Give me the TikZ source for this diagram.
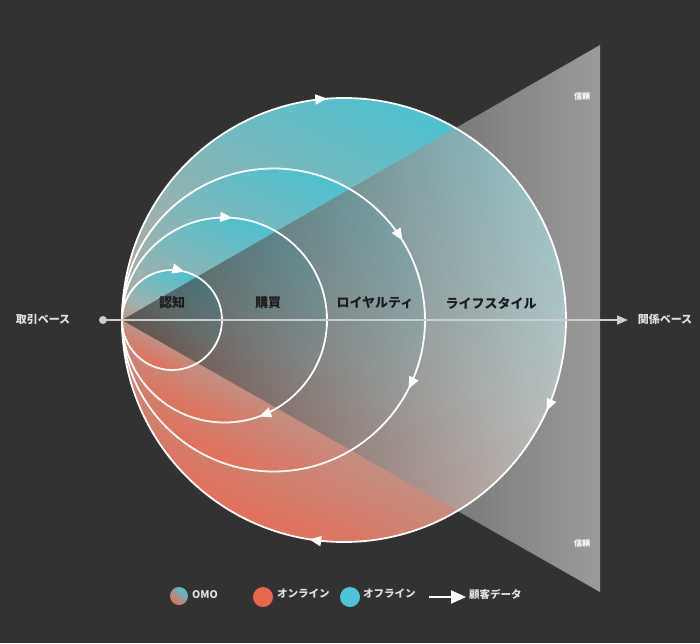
\documentclass[tikz,border=0pt]{standalone}
\usepackage{fontspec}
\newfontfamily\jp{Noto Sans CJK JP}
\usetikzlibrary{arrows.meta,decorations.markings}
\definecolor{bg}{RGB}{50,50,50}
\definecolor{teal}{RGB}{78,193,207}
\definecolor{salmon}{RGB}{226,112,91}
\definecolor{midmix}{RGB}{160,176,172}
\definecolor{onl}{RGB}{232,102,79}
\definecolor{offl}{RGB}{79,195,216}
\definecolor{wedgeL}{RGB}{44,44,44}
\definecolor{wedgeR}{RGB}{215,215,215}
\definecolor{axisgray}{RGB}{205,205,205}
\definecolor{lbl}{RGB}{28,28,28}
\definecolor{side}{RGB}{225,225,225}
\tikzset{
  ringtip/.tip={Triangle[length=12pt,width=10pt]},
  circshade/.style={top color=teal, bottom color=salmon, middle color=midmix, shading angle=-25},
  ring/.style={draw=white, line width=1.8pt},
  stage/.style={font=\jp\bfseries\fontsize{13}{15}\selectfont, text=lbl, inner sep=0pt},
  sidelbl/.style={font=\jp\bfseries\fontsize{11}{13}\selectfont, text=side, inner sep=0pt},
  trust/.style={font=\jp\bfseries\fontsize{8}{10}\selectfont, text=white, inner sep=0pt},
  legtext/.style={font=\jp\bfseries\fontsize{10.5}{12}\selectfont, text=side, inner sep=0pt, anchor=west},
  marks/.style={postaction={decorate}, decoration={markings, #1}}
}
\begin{document}
\begin{tikzpicture}[x=1pt,y=-1pt]
\fill[bg] (0,0) rectangle (700,643);
\useasboundingbox (0,0) rectangle (700,643);
% centers
\coordinate (c4) at (344,320);
\coordinate (c3) at (273.5,320);
\coordinate (c2) at (224.5,320);
\coordinate (c1) at (172,320);
\coordinate (apex) at (122,320);
\coordinate (wt) at (600,45);
\coordinate (wb) at (600,592);
% filled circles
\shade[circshade] (c4) circle[radius=222];
\shade[circshade] (c3) circle[radius=151.5];
\shade[circshade] (c2) circle[radius=102.5];
\shade[circshade] (c1) circle[radius=50];
% wedge
\shade[left color=wedgeL, right color=wedgeR, opacity=0.64] (apex) -- (wt) -- (wb) -- cycle;
% rings
\draw[ring, marks={mark=at position 0.067 with {\arrow{ringtip}}, mark=at position 0.275 with {\arrow{ringtip}}, mark=at position 0.738 with {\arrow{ringtip}}}]
  (c4) ++(0:222) arc[start angle=0, end angle=360, radius=222];
\draw[ring, marks={mark=at position 0.075 with {\arrow{ringtip}}, mark=at position 0.912 with {\arrow{ringtip}}}]
  (c3) ++(0:151.5) arc[start angle=0, end angle=360, radius=151.5];
\draw[ring, marks={mark=at position 0.195 with {\arrow{ringtip}}, mark=at position 0.762 with {\arrow{ringtip}}}]
  (c2) ++(0:102.5) arc[start angle=0, end angle=360, radius=102.5];
\draw[ring, marks={mark=at position 0.79 with {\arrow{ringtip}}}]
  (c1) ++(0:50) arc[start angle=0, end angle=360, radius=50];
% axis
\coordinate (dot) at (103,320);
\coordinate (axend) at (628,320);
\fill[axisgray] (dot) circle[radius=4];
\draw[axisgray, line width=1.5pt, -{Triangle[length=11pt,width=9pt]}] (dot) -- (axend);
% labels
\node[stage] (l1) at (172,303) {認知};
\node[stage] (l2) at (268,303) {購買};
\node[stage] (l3) at (375,303) {ロイヤルティ};
\node[stage] (l4) at (491,303) {ライフスタイル};
\node[sidelbl] (left) at (43,319) {取引ベース};
\node[sidelbl] (right) at (665,319) {関係ベース};
\node[trust] (t1) at (582,96) {信頼};
\node[trust] (t2) at (582,543) {信頼};
% legend
\shade[top color=teal, bottom color=salmon, shading angle=-40] (179,596) circle[radius=9];
\node[legtext] (omo) at (192,595) {OMO};
\fill[onl] (263,597) circle[radius=10];
\node[legtext] (on) at (277,594) {オンライン};
\fill[offl] (350,597) circle[radius=10];
\node[legtext] (off) at (363,594) {オフライン};
\coordinate (la) at (429,597);
\coordinate (lb) at (466,597);
\draw[white, line width=2pt, -{Triangle[length=15pt,width=13pt]}] (la) -- (lb);
\node[legtext] (cust) at (469,594) {顧客データ};
\end{tikzpicture}
\end{document}
